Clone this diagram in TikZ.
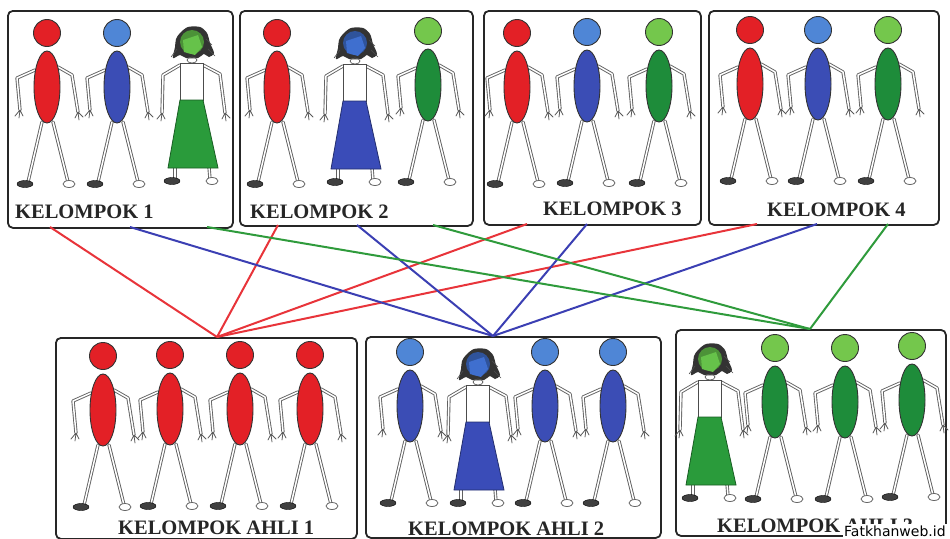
\documentclass[tikz,border=0pt]{standalone}
\usepackage{fontspec}
\setmainfont{Liberation Serif}
\newfontfamily\marksans{DejaVu Sans}

\definecolor{redfig}{HTML}{E32026}
\definecolor{bluebody}{HTML}{3B4DB5}
\definecolor{bluehead}{HTML}{4F86D6}
\definecolor{greenbody}{HTML}{1E8C3A}
\definecolor{greenhead}{HTML}{74C74C}
\definecolor{skirtgreen}{HTML}{2A9B3B}
\definecolor{facegreen}{HTML}{66C24A}
\definecolor{skirtblue}{HTML}{3A4CB8}
\definecolor{faceblue}{HTML}{3F6FCF}
\definecolor{linkred}{HTML}{E8343A}
\definecolor{linkblue}{HTML}{3B3FB3}
\definecolor{linkgreen}{HTML}{2F9B3C}

\tikzset{
  grp/.style={draw=black!85, line width=1.8pt, rounded corners=5pt, fill=white,
    inner sep=0pt, anchor=north west},
  lbl/.style={font=\fontsize{20.5}{22}\selectfont\bfseries, text=black!85,
    anchor=base west, inner sep=0pt},
  limb/.style={draw=black!62, line width=0.9pt, double=white, double distance=1.5pt,
    line cap=round, line join=round},
  finger/.style={draw=black!65, line width=0.8pt, line cap=round},
  outl/.style={draw=black!80, line width=0.9pt},
  link/.style={line width=2pt},
  % stick figure with oval body; origin = head centre
  pics/boy/.style 2 args={code={
    \draw[limb] (-5,89) -- (-19,149);
    \draw[limb] (6,89) -- (21,149);
    \draw[limb] (-12,37) -- (-30,45) -- (-27,77);
    \draw[limb] (11,34) -- (25,42) -- (31,79);
    \draw[finger] (-27,77) -- ++(-5,6) (-27,77) -- ++(-1,8) (-27,77) -- ++(3,6);
    \draw[finger] (31,79) -- ++(-3,6) (31,79) -- ++(1,8) (31,79) -- ++(5,5);
    \filldraw[fill=black!75, draw=black] (-22,151) ellipse [x radius=8, y radius=3.5];
    \filldraw[fill=white, draw=black!60, line width=0.8pt] (22,151) ellipse [x radius=6, y radius=3.5];
    \filldraw[fill=#1, outl] (0,54) ellipse [x radius=13, y radius=36];
    \filldraw[fill=#2, outl] (0,0) circle [radius=13.5];
  }},
  % girl with skirt; origin = face centre
  pics/girl/.style 2 args={code={
    \draw[limb] (-17,122) -- (-17,134);
    \draw[limb] (17,122) -- (18,134);
    \draw[limb] (-12,20) -- (-29,30) -- (-30,68);
    \draw[limb] (11,20) -- (28,29) -- (33,68);
    \draw[finger] (-30,68) -- ++(-5,6) (-30,68) -- ++(-1,8) (-30,68) -- ++(3,6);
    \draw[finger] (33,68) -- ++(-3,6) (33,68) -- ++(1,8) (33,68) -- ++(5,5);
    \filldraw[fill=black!75, draw=black] (-20,136) ellipse [x radius=8, y radius=3.5];
    \filldraw[fill=white, draw=black!60, line width=0.8pt] (20,136) ellipse [x radius=6, y radius=3.5];
    \fill[black!80] plot[smooth cycle] coordinates {(-12,-12) (-4,-18) (8,-18) (15,-12)
      (18,-2) (22,8) (17,12) (12,9) (6,13) (-6,13) (-12,10) (-19,13) (-17,2) (-16,-6)};
    \draw[black!70, line width=0.6pt] (-15,4) -- (-21,12) (16,4) -- (23,11) (14,-6) -- (20,0);
    \fill[#2!75!black] (0,-3) circle [radius=12];
    \fill[#2] (-9,-5) -- (6,-10) -- (10,2) -- (3,10) -- (-8,7) -- cycle;
    \filldraw[fill=white, draw=black!70, line width=0.8pt] (-12,18) rectangle (11,55);
    \draw[black!65, line width=0.7pt] (0,15) ellipse [x radius=5, y radius=3];
    \filldraw[fill=#1, draw=#1!60!black, line width=0.8pt]
      (-12,55) -- (11,55) -- (26,123) -- (-24,123) -- cycle;
  }},
}

\begin{document}
\begin{tikzpicture}[x=1pt, y=-1pt]
\useasboundingbox (0,0) rectangle (950,538);

% home groups
\node[grp, minimum width=225pt, minimum height=217pt] (k1) at (7,10) {};
\node[grp, minimum width=233pt, minimum height=215pt] (k2) at (239,10) {};
\node[grp, minimum width=217pt, minimum height=214pt] (k3) at (483,10) {};
\node[grp, minimum width=230pt, minimum height=214pt] (k4) at (708,10) {};
% expert groups
\node[grp, minimum width=301pt, minimum height=201pt] (a1) at (55,337) {};
\node[grp, minimum width=295pt, minimum height=201pt] (a2) at (365,336) {};
\node[grp, minimum width=270pt, minimum height=206pt] (a3) at (675,329) {};

% connector end points
\coordinate (r1) at (50,227);  \coordinate (b1) at (130,227); \coordinate (g1) at (207,227);
\coordinate (r2) at (278,225); \coordinate (b2) at (357,225); \coordinate (g2) at (433,225);
\coordinate (r3) at (527,224); \coordinate (b3) at (587,224);
\coordinate (r4) at (757,224); \coordinate (b4) at (817,224); \coordinate (g4) at (888,224);
\coordinate (rx) at (217,337); \coordinate (bx) at (493,336); \coordinate (gx) at (810,329);

\foreach \s in {r1,r2,r3,r4} \draw[link, linkred] (\s) -- (rx);
\foreach \s in {b1,b2,b3,b4} \draw[link, linkblue] (\s) -- (bx);
\foreach \s in {g1,g2,g4} \draw[link, linkgreen] (\s) -- (gx);

% KELOMPOK 1
\pic at (47,33) {boy={redfig}{redfig}};
\pic at (117,33) {boy={bluebody}{bluehead}};
\pic at (192,45) {girl={skirtgreen}{facegreen}};
% KELOMPOK 2
\pic at (277,33) {boy={redfig}{redfig}};
\pic at (355,46) {girl={skirtblue}{faceblue}};
\pic at (428,31) {boy={greenbody}{greenhead}};
% KELOMPOK 3
\pic at (517,33) {boy={redfig}{redfig}};
\pic at (587,32) {boy={bluebody}{bluehead}};
\pic at (659,32) {boy={greenbody}{greenhead}};
% KELOMPOK 4
\pic at (750,30) {boy={redfig}{redfig}};
\pic at (818,30) {boy={bluebody}{bluehead}};
\pic at (888,30) {boy={greenbody}{greenhead}};
% KELOMPOK AHLI 1
\pic at (103,356) {boy={redfig}{redfig}};
\pic at (170,355) {boy={redfig}{redfig}};
\pic at (240,355) {boy={redfig}{redfig}};
\pic at (310,355) {boy={redfig}{redfig}};
% KELOMPOK AHLI 2
\pic at (410,352) {boy={bluebody}{bluehead}};
\pic at (478,367) {girl={skirtblue}{faceblue}};
\pic at (545,352) {boy={bluebody}{bluehead}};
\pic at (613,352) {boy={bluebody}{bluehead}};
% KELOMPOK AHLI 3
\pic at (710,362) {girl={skirtgreen}{facegreen}};
\pic at (775,348) {boy={greenbody}{greenhead}};
\pic at (845,348) {boy={greenbody}{greenhead}};
\pic at (912,346) {boy={greenbody}{greenhead}};

% captions
\node[lbl] (t1) at (15,218) {KELOMPOK 1};
\node[lbl] (t2) at (250,218) {KELOMPOK 2};
\node[lbl] (t3) at (543,215) {KELOMPOK 3};
\node[lbl] (t4) at (767,216) {KELOMPOK 4};
\node[lbl] (u1) at (118,534) {KELOMPOK AHLI 1};
\node[lbl] (u2) at (408,535) {KELOMPOK AHLI 2};
\node[lbl] (u3) at (717,532) {KELOMPOK AHLI 3};

% site mark in the lower right corner
\node[anchor=base west, fill=white, inner sep=1pt,
  font=\marksans\fontsize{14}{14}\selectfont] (wm) at (843,536) {Fatkhanweb.id};
\end{tikzpicture}
\end{document}
